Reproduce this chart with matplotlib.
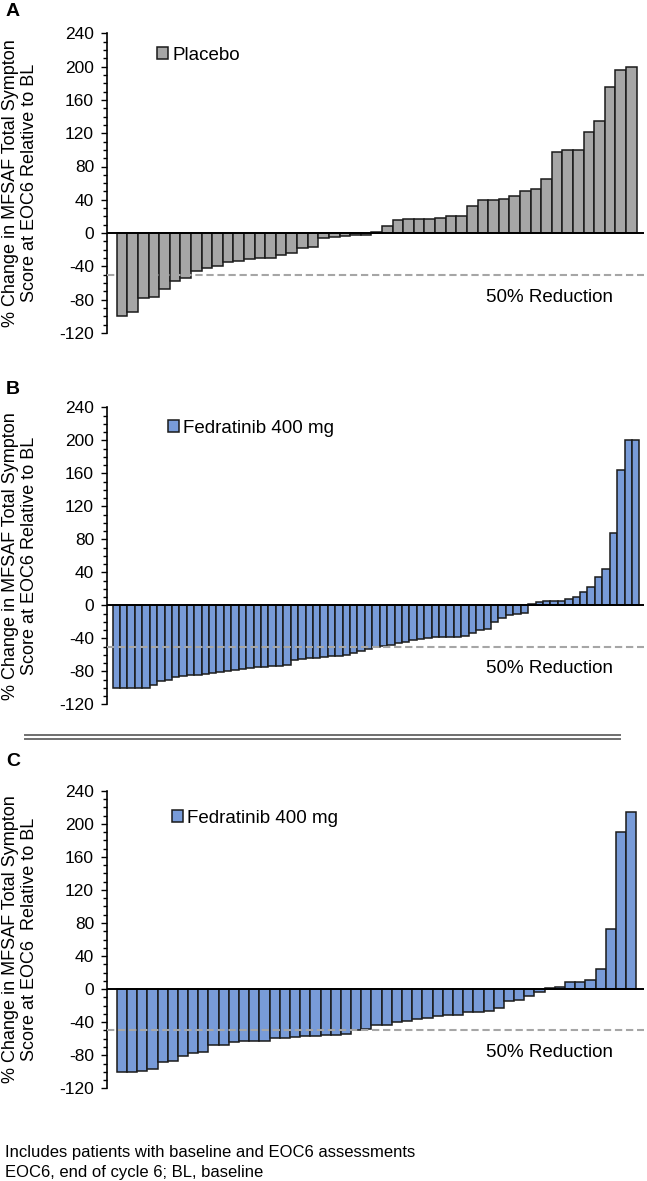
import matplotlib
matplotlib.use("Agg")
import matplotlib.pyplot as plt
import matplotlib.transforms as mtransforms
from matplotlib.lines import Line2D
from matplotlib.ticker import MultipleLocator

plt.rcParams['font.family'] = ['Liberation Sans', 'DejaVu Sans']
plt.rcParams['axes.unicode_minus'] = False

# ---------- data (% change, sorted per patient) ----------
placebo = [-100, -95, -78, -77, -67, -57, -54, -45, -42, -40,
           -35, -33, -31, -30, -30, -26, -24, -18, -17, -6,
           -5, -3, -2.5, -2, 1.5, 8, 15.5, 16.5, 16.5, 17.5,
           18.5, 20, 20, 32, 39.5, 39.5, 41, 44, 51, 52.5,
           65, 97, 100, 100, 122, 135, 175, 196, 199]

fedr_b = [-100, -100, -100, -100, -100, -96.4, -91.6, -90, -86.4, -86,
          -84.4, -84, -83.6, -82, -80.8, -79.6, -78, -76.8, -76.4, -75.2,
          -74.8, -74, -73.6, -72.4, -66.8, -65.6, -64.4, -63.6, -62.8, -62,
          -61.6, -60.4, -58.4, -55.2, -53.2, -50.8, -49.2, -47.6, -46, -44,
          -42.4, -41.2, -39.2, -38.8, -38.4, -38.4, -38, -37.6, -33.2, -30.4,
          -28.4, -20.4, -15.6, -11.2, -10, -9.2,
          1.6, 3.6, 4.8, 5.7, 5.7, 8, 10, 16, 22.6, 34.7,
          43.6, 88, 164, 200, 200]

fedr_c = [-99.7, -99.7, -98.9, -96.8, -88.2, -87, -80.4, -77, -75.5, -67.7,
          -67.3, -64.4, -62.8, -62.8, -62.4, -58.7, -58.7, -58.3, -56.6, -56.2,
          -55.4, -55, -54.2, -50, -48, -43.9, -43.1, -39.8, -39, -36.1,
          -35.3, -32.8, -31.6, -30.8, -27.9, -27.1, -26.7, -23.4, -14.8, -13.5,
          -8.6, -3.3, 1.6, 2.9, 8.6, 9, 11.5, 24.2, 72.6, 190.4,
          214.6]

panel_letters = ["A", "B", "C"]
legend_names = ["Placebo", "Fedratinib 400 mg", "Fedratinib 400 mg"]
ylabels = ["% Change in MFSAF Total Sympton\nScore at EOC6 Relative to BL",
           "% Change in MFSAF Total Sympton\nScore at EOC6 Relative to BL",
           "% Change in MFSAF Total Sympton\nScore at EOC6  Relative to BL"]
footnotes = ["Includes patients with baseline and EOC6 assessments",
             "EOC6, end of cycle 6; BL, baseline"]

GRAY = "#A6A6A6"
BLUE = "#789BD8"
EDGE = "#1a1a1a"

W, H = 647, 1181
fig = plt.figure(figsize=(W / 100, H / 100), dpi=100)

AX_L, AX_R = 106.5, 644.0


def add_axes_px(top, bottom):
    return fig.add_axes([AX_L / W, 1 - bottom / H, (AX_R - AX_L) / W, (bottom - top) / H])


def draw_panel(values, color, name, ylabel, letter, top, bottom,
               bar_l, bar_r, leg_xy, letter_y):
    ax = add_axes_px(top, bottom)
    n = len(values)
    ax.bar(range(n), values, width=1.0, color=color, edgecolor=EDGE,
           linewidth=1.1, label=name, zorder=2)

    # bars occupy bar_l..bar_r pixels inside the axes
    per = n / (bar_r - bar_l)
    ax.set_xlim(-0.5 - (bar_l - AX_L) * per, n - 0.5 + (AX_R - bar_r) * per)
    ax.set_ylim(-120, 240)
    ax.set_yticks(range(-120, 241, 40))
    ax.yaxis.set_minor_locator(MultipleLocator(10))
    ax.set_xticks([])
    for s in ("top", "right", "bottom"):
        ax.spines[s].set_visible(False)
    ax.spines["left"].set_linewidth(1.2)
    ax.tick_params(axis="y", which="major", direction="out", length=4,
                   width=1, labelsize=12.5, pad=5)
    ax.tick_params(axis="y", which="minor", direction="out", length=3, width=1)

    ax.axhline(0, color="black", lw=1.4, zorder=3)
    ax.axhline(-50, color="#A6A6A6", lw=1.5, ls=(0, (3.5, 1.8)), zorder=3)

    trans = mtransforms.blended_transform_factory(ax.transAxes, ax.transData)
    ax.text(0.825, -77, "50% Reduction", transform=trans, ha="center",
            va="center", fontsize=13.5)

    ax.legend(loc="upper left", bbox_to_anchor=(leg_xy[0] / W, 1 - leg_xy[1] / H),
              bbox_transform=fig.transFigure, frameon=False, borderpad=0,
              borderaxespad=0, handlelength=0.6, handleheight=0.6,
              handletextpad=0.2, fontsize=13.5)

    yc = 1 - (top + bottom) / 2 / H
    fig.text(20 / W, yc, ylabel, rotation=90, ha="center", va="center",
             fontsize=13, linespacing=1.2, multialignment="center")
    fig.text(13 / W, 1 - letter_y / H, letter, ha="center", va="center",
             fontsize=14, fontweight="bold")
    return ax


draw_panel(placebo, GRAY, legend_names[0], ylabels[0], panel_letters[0],
           33.3, 333.0, 116.7, 636.7, (157, 47), 12)
draw_panel(fedr_b, BLUE, legend_names[1], ylabels[1], panel_letters[1],
           407.3, 704.3, 112.6, 639.4, (168, 420), 390)
draw_panel(fedr_c, BLUE, legend_names[2], ylabels[2], panel_letters[2],
           790.7, 1088.3, 116.8, 636.3, (172, 810), 761)

# double separator line between B and C
for yy in (735.0, 738.5):
    fig.add_artist(Line2D([25 / W, 620 / W], [1 - yy / H, 1 - yy / H],
                          color="#6f6f6f", lw=1.4))

fig.text(5 / W, 1 - 1152 / H, footnotes[0], ha="left", va="center", fontsize=12)
fig.text(5 / W, 1 - 1172 / H, footnotes[1], ha="left", va="center", fontsize=12)

fig.savefig("out.png", dpi=100)
